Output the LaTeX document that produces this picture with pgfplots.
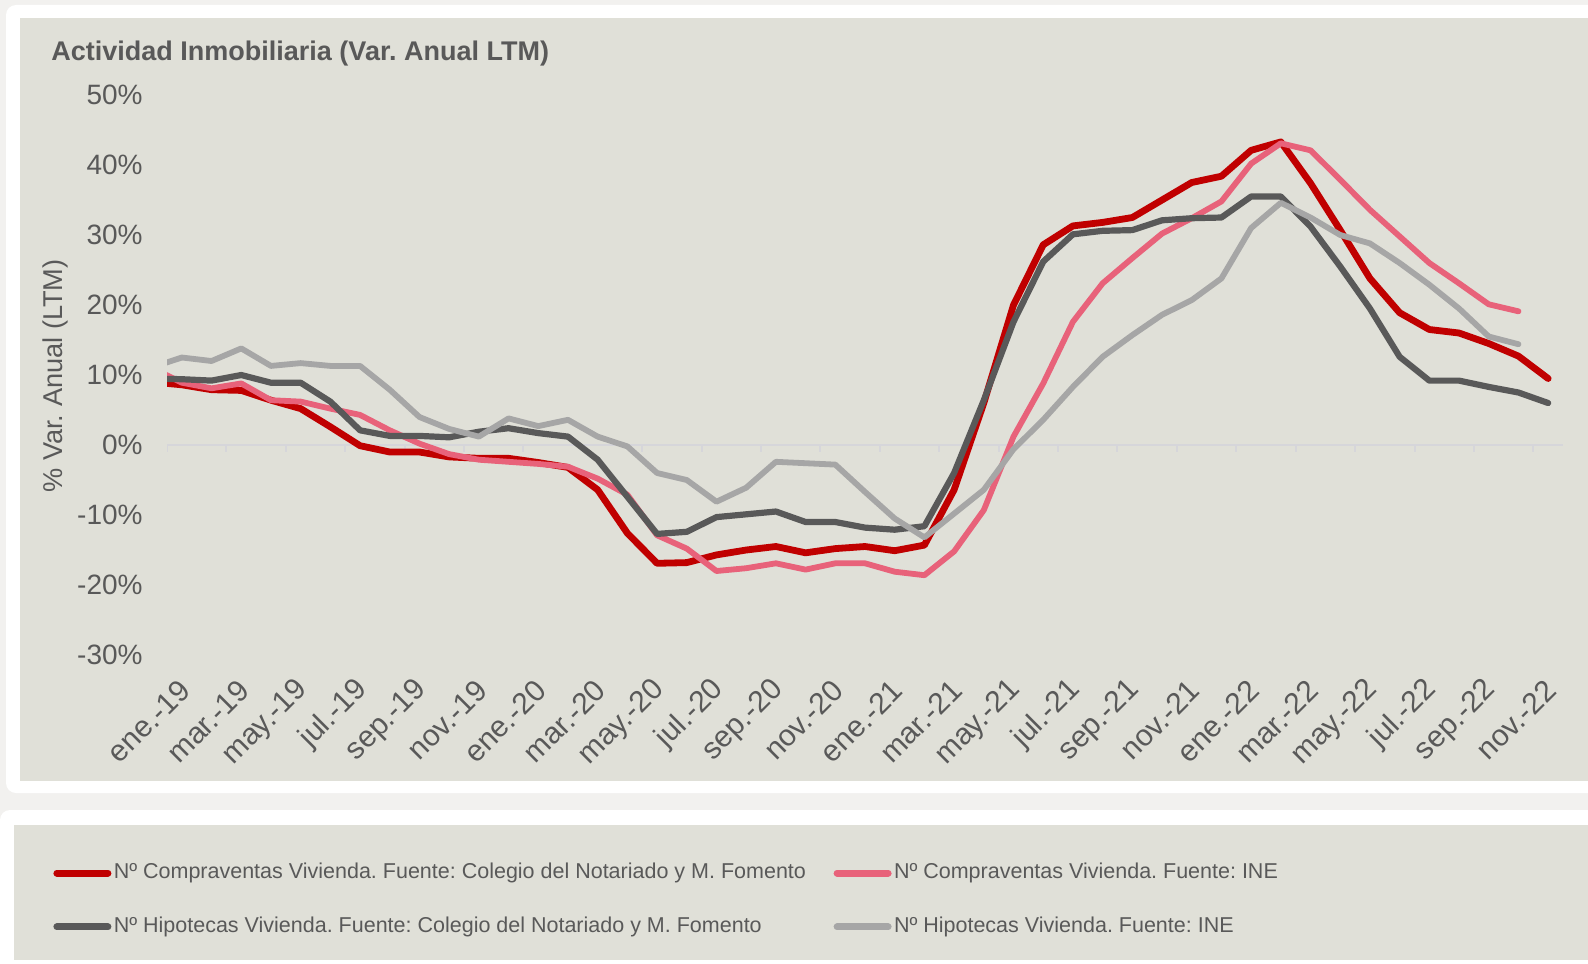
\documentclass[border=0pt]{standalone}
\usepackage{fontspec}
\setmainfont{Liberation Sans}
\usepackage{pgfplots}
\usepackage{pgfplotstable}
\pgfplotsset{compat=1.18}
\frenchspacing
\definecolor{bgout}{RGB}{242,241,239}
\definecolor{panel}{RGB}{224,224,216}
\definecolor{txt}{RGB}{89,89,89}
\definecolor{cred}{RGB}{192,0,0}
\definecolor{cpink}{RGB}{232,98,122}
\definecolor{cdark}{RGB}{89,89,89}
\definecolor{clight}{RGB}{166,166,166}
\definecolor{zeroline}{RGB}{214,214,218}

\pgfplotstableread{
x   r     p     d     l
-1  9.0   11.0  9.5   11.1
0   8.6   8.9   9.4   12.5
1   7.9   8.1   9.2   12.0
2   7.8   8.8   10.0  13.8
3   6.4   6.4   8.9   11.3
4   5.2   6.2   8.9   11.7
5   2.6   5.2   6.2   11.3
6   -0.1  4.3   2.1   11.3
7   -1.0  2.1   1.3   7.9
8   -1.0  0.2   1.3   4.0
9   -1.7  -1.3  1.1   2.3
10  -1.9  -2.1  1.9   1.2
11  -1.9  -2.4  2.4   3.8
12  -2.5  -2.7  1.7   2.7
13  -3.2  -3.1  1.2   3.6
14  -6.4  -4.8  -2.1  1.2
15  -12.6 -7.1  -7.4  -0.2
16  -16.9 -12.9 -12.7 -4.0
17  -16.8 -14.8 -12.4 -5.0
18  -15.7 -18.0 -10.3 -8.1
19  -15.0 -17.6 -9.9  -6.1
20  -14.5 -16.9 -9.5  -2.4
21  -15.4 -17.8 -11.0 -2.6
22  -14.8 -16.9 -11.0 -2.8
23  -14.5 -16.9 -11.8 -6.7
24  -15.1 -18.1 -12.1 -10.5
25  -14.3 -18.6 -11.6 -13.2
26  -6.4  -15.2 -4.0  -9.8
27  6.0   -9.3  6.4   -6.4
28  20.0  1.2   17.6  -0.6
29  28.6  8.8   26.2  3.6
30  31.3  17.6  30.1  8.3
31  31.8  23.1  30.6  12.6
32  32.5  26.7  30.7  15.7
33  35.0  30.2  32.1  18.6
34  37.5  32.4  32.4  20.7
35  38.4  34.8  32.5  23.8
36  42.1  40.2  35.5  31.0
37  43.3  43.1  35.5  34.6
38  37.4  42.1  31.2  32.5
39  30.7  37.9  25.5  30.0
40  23.8  33.6  19.5  28.8
41  18.9  29.8  12.6  26.0
42  16.5  26.0  9.2   22.9
43  16.0  23.1  9.2   19.5
44  14.5  20.1  8.3   15.5
45  12.7  19.1  7.5   14.4
46  9.5   nan   6.0   nan
}\data

\begin{document}
\begin{tikzpicture}
\begin{scope}[x=0.5pt,y=-0.5pt]
\clip (0,0) rectangle (1588,963);
\fill[bgout] (0,0) rectangle (1588,963);
\fill[white, rounded corners=5] (6,5) rectangle (1610,793);
\fill[panel] (20,18) rectangle (1588,781);
\fill[white, rounded corners=5] (0,810) rectangle (1610,985);
\fill[panel] (14,825) rectangle (1588,960);
\node[anchor=base west, inner sep=0pt, text=txt, font=\bfseries\fontsize{13.5}{15}\selectfont] at (51,61) {Actividad Inmobiliaria (Var. Anual LTM)};
\node[rotate=90, inner sep=0pt, text=txt, font=\fontsize{13.6}{15}\selectfont] at (55,376) {\% Var. Anual (LTM)};
\end{scope}
\begin{axis}[
  at={(83.5pt,-327.5pt)}, anchor=south west,
  width=698pt, height=280pt, scale only axis,
  xmin=-0.5, xmax=46.5, ymin=-30, ymax=50,
  axis line style={draw=none},
  major tick length=0pt, tick style={draw=none},
  xtick={0,2,...,46},
  xticklabels={ene.-19,mar.-19,may.-19,jul.-19,sep.-19,nov.-19,ene.-20,mar.-20,may.-20,jul.-20,sep.-20,nov.-20,ene.-21,mar.-21,may.-21,jul.-21,sep.-21,nov.-21,ene.-22,mar.-22,may.-22,jul.-22,sep.-22,nov.-22},
  ytick={-30,-20,...,50},
  yticklabels={-30\%,-20\%,-10\%,0\%,10\%,20\%,30\%,40\%,50\%},
  tick label style={font=\fontsize{14}{16}\selectfont, text=txt},
  xticklabel style={font=\fontsize{15}{17}\selectfont, xshift=1.5pt, yshift=-15pt, rotate=45, anchor=east, inner sep=0pt},
  yticklabel style={inner sep=0pt, xshift=-12pt},
  legend columns=2,
  legend style={at={(-0.08166,-0.4375)}, anchor=west, draw=none, fill=none,
    font=\fontsize{10.75}{12}\selectfont, text=txt, inner sep=0pt,
    row sep=14pt,
    nodes={inner sep=1.2pt, text height=8pt, text depth=2.5pt},
    /tikz/every even column/.append style={column sep=12.6pt}},
  legend cell align=left,
  legend image code/.code={\draw[#1, line width=3.5pt, line cap=round] (1.75pt,0pt) -- (27.25pt,0pt);},
  every axis plot/.append style={line join=round, line cap=round},
]
\draw[zeroline, line width=1pt] (axis cs:-0.5,0) -- (axis cs:46.5,0);
\pgfplotsinvokeforeach{0,...,23}{\draw[zeroline, line width=1pt] (axis cs:{-0.5+2*#1},0) -- ++(0pt,-3.5pt);}
\addplot[cred, line width=3.4pt] table[x=x,y=r]{\data};
\addlegendentry{Nº Compraventas Vivienda. Fuente: Colegio del Notariado y M. Fomento}
\addplot[cpink, line width=2.9pt] table[x=x,y=p]{\data};
\addlegendentry{Nº Compraventas Vivienda. Fuente: INE}
\addplot[cdark, line width=3.1pt] table[x=x,y=d]{\data};
\addlegendentry{Nº Hipotecas Vivienda. Fuente: Colegio del Notariado y M. Fomento}
\addplot[clight, line width=2.9pt] table[x=x,y=l]{\data};
\addlegendentry{Nº Hipotecas Vivienda. Fuente: INE}
\end{axis}
\end{tikzpicture}
\end{document}
